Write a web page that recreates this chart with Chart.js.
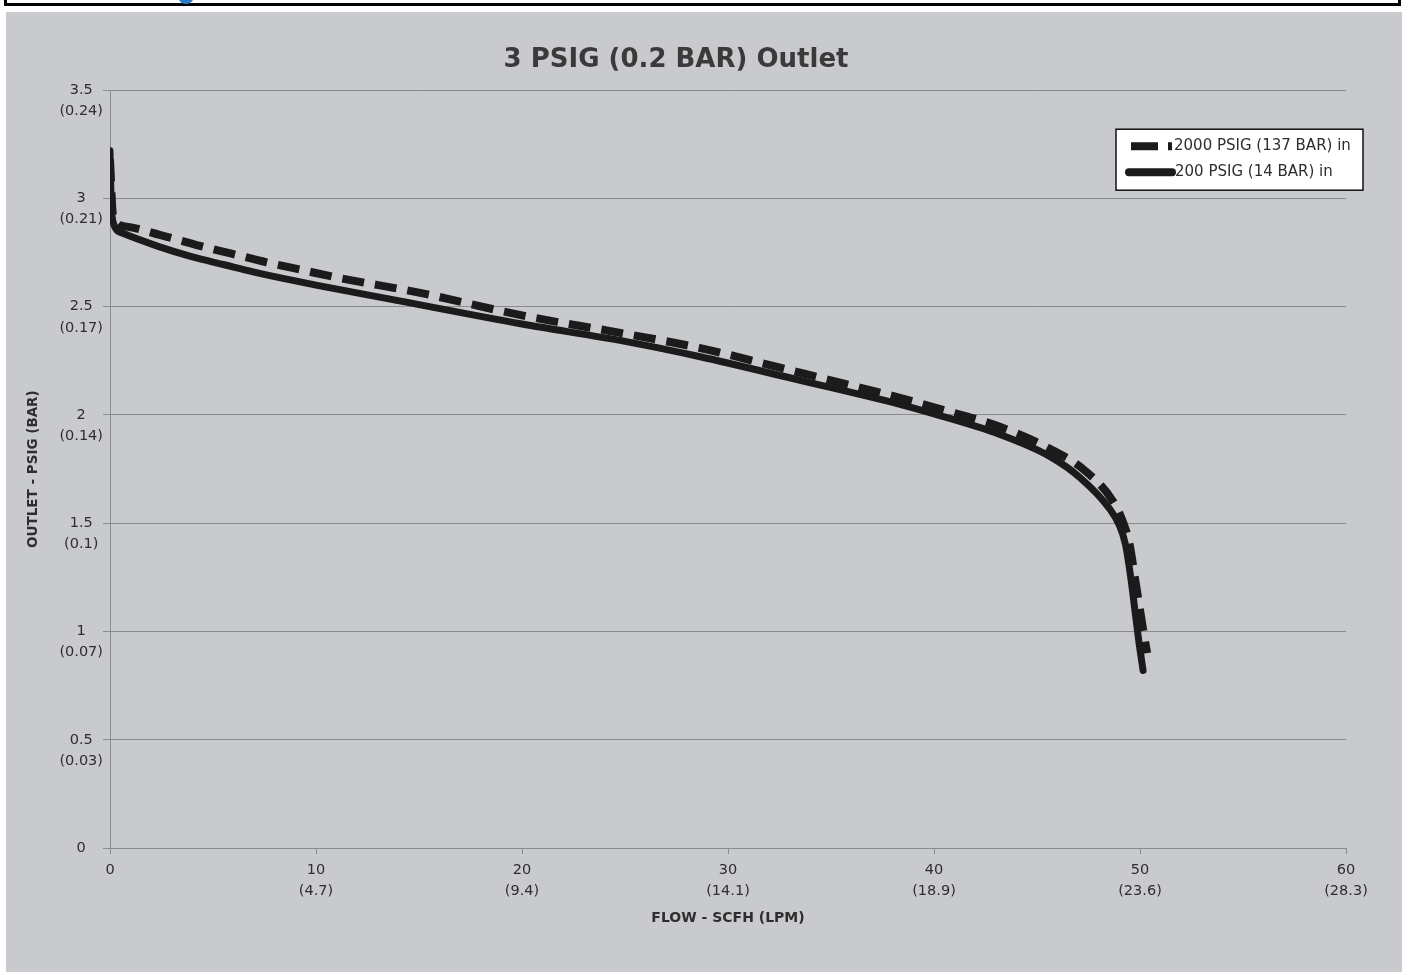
<!DOCTYPE html>
<html>
<head>
<meta charset="utf-8">
<title>3 PSIG (0.2 BAR) Outlet</title>
<script src="https://cdn.jsdelivr.net/npm/chart.js@4/dist/chart.umd.min.js"></script>
<style>
  html, body { margin: 0; padding: 0; background: #fff; }
  body { width: 1408px; height: 975px; position: relative; overflow: hidden; }
  #frame {
    position: absolute; left: 4px; top: -20px; width: 1391px; height: 20px;
    border: 3px solid #000; box-sizing: content-box;
  }
  #dot {
    position: absolute; left: 178px; top: -12px; width: 16px; height: 16px;
    border-radius: 50%; background: #2b78c5;
  }
  #panel {
    position: absolute; left: 6px; top: 12px; width: 1396px; height: 960px;
    background: #c8cacd;
  }
</style>
</head>
<body>
<div id="frame"></div>
<div id="dot"></div>
<div id="panel"><canvas id="myChart"></canvas></div>
<script>
// 3 PSIG outlet - flow curves

// 200 PSIG (14 BAR) inlet - solid
const flow200 = [0, 0.05, 0.15, 0.6, 2.3, 4, 5.5, 7, 8.7, 10, 13.6, 20, 25, 28.6, 33.5, 38.3, 40, 43.2, 45.6, 47.1, 48.5, 49.0, 49.3, 49.55, 49.75, 49.95, 50.15];
const outlet200 = [3.22, 3.0, 2.89, 2.84, 2.78, 2.73, 2.695, 2.66, 2.625, 2.6, 2.535, 2.42, 2.34, 2.27, 2.16, 2.05, 2.005, 1.91, 1.81, 1.71, 1.57, 1.49, 1.4, 1.25, 1.1, 0.95, 0.82];

// 2000 PSIG (137 BAR) inlet - dashed
const flow2000 = [0, 0.15, 0.8, 2.5, 4.2, 5.9, 7.6, 9.3, 11, 15, 20, 25, 28.6, 33.5, 38.3, 40, 43.2, 45.6, 47.3, 48.7, 49.2, 49.5, 49.75, 50.0, 50.2, 50.35];
const outlet2000 = [3.18, 2.92, 2.87, 2.83, 2.785, 2.745, 2.705, 2.67, 2.635, 2.565, 2.46, 2.375, 2.31, 2.195, 2.08, 2.035, 1.945, 1.845, 1.745, 1.6, 1.5, 1.4, 1.25, 1.1, 0.98, 0.9];

const seriesNames = ["2000 PSIG (137 BAR) in", "200 PSIG (14 BAR) in"];

// tick labels
const yTickPsig = ["0", "0.5", "1", "1.5", "2", "2.5", "3", "3.5"];
const yTickBar = ["", "(0.03)", "(0.07)", "(0.1)", "(0.14)", "(0.17)", "(0.21)", "(0.24)"];
const xTickScfh = ["0", "10", "20", "30", "40", "50", "60"];
const xTickLpm = ["", "(4.7)", "(9.4)", "(14.1)", "(18.9)", "(23.6)", "(28.3)"];

function toPoints(xs, ys) {
  return xs.map(function (x, i) { return { x: x, y: ys[i] }; });
}

const FONT = "'DejaVu Sans', sans-serif";
const TXT = "#2e2e2e";
const GRID = "#8a8b8e";

// legend box drawn inside the plot, top right
const boxLegend = {
  id: "boxLegend",
  afterDatasetsDraw(chart) {
    const c = chart.ctx;
    const area = chart.chartArea;
    const left = area.right - 230;
    const top = area.top + 39;
    const w = 247, h = 61;
    c.save();
    c.fillStyle = "#fff";
    c.fillRect(left, top, w, h);
    c.strokeStyle = "#111";
    c.lineWidth = 1.5;
    c.strokeRect(left, top, w, h);

    c.font = "15px " + FONT;
    c.fillStyle = TXT;
    c.textBaseline = "middle";

    // dashed sample
    const ds0 = chart.data.datasets[0];
    c.strokeStyle = ds0.borderColor;
    c.lineWidth = 8;
    c.setLineDash([27, 10]);
    c.beginPath();
    c.moveTo(left + 15, top + 17);
    c.lineTo(left + 56, top + 17);
    c.stroke();
    c.setLineDash([]);
    c.fillText(ds0.label, left + 58, top + 17);

    // solid sample
    const ds1 = chart.data.datasets[1];
    c.strokeStyle = ds1.borderColor;
    c.lineWidth = 8;
    c.lineCap = "round";
    c.beginPath();
    c.moveTo(left + 13, top + 43);
    c.lineTo(left + 56, top + 43);
    c.stroke();
    c.fillText(ds1.label, left + 59, top + 43);
    c.restore();
  },
};

const ctx = document.getElementById("myChart");

new Chart(ctx, {
  type: "line",
  data: {
    datasets: [
      {
        label: seriesNames[0],
        data: toPoints(flow2000, outlet2000),
        borderColor: "#1b1b1b",
        borderWidth: 8,
        borderDash: [22, 11],
        pointRadius: 0,
        cubicInterpolationMode: "monotone",
        order: 2,
      },
      {
        label: seriesNames[1],
        data: toPoints(flow200, outlet200),
        borderColor: "#1b1b1b",
        borderWidth: 7,
        borderCapStyle: "round",
        borderJoinStyle: "round",
        pointRadius: 0,
        cubicInterpolationMode: "monotone",
        order: 1,
      },
    ],
  },
  plugins: [boxLegend],
  options: {
    responsive: true,
    maintainAspectRatio: false,
    animation: false,
    layout: { padding: { left: 0, right: 56, top: 0, bottom: 0 } },
    plugins: {
      legend: { display: false },
      tooltip: { enabled: false },
      title: {
        display: true,
        text: "3 PSIG (0.2 BAR) Outlet",
        color: "#3a3a3a",
        font: { family: FONT, size: 26, weight: "bold", lineHeight: 1.2 },
        padding: { top: 33, bottom: 14 },
      },
    },
    scales: {
      x: {
        type: "linear",
        min: 0,
        max: 60,
        afterFit: function (s) { s.height = 124; },
        grid: { drawOnChartArea: false, color: GRID, tickLength: 6 },
        border: { color: GRID, width: 1 },
        ticks: {
          stepSize: 10,
          padding: 5,
          maxRotation: 0,
          color: TXT,
          font: { family: FONT, size: 14.5, lineHeight: 1.5 },
          callback: function (v) {
            const i = Math.round(v / 10);
            return xTickLpm[i] ? [xTickScfh[i], xTickLpm[i]] : xTickScfh[i];
          },
        },
        title: {
          display: true,
          text: "FLOW - SCFH (LPM)",
          color: TXT,
          font: { family: FONT, size: 14, weight: "bold" },
          padding: { top: 0, bottom: 45 },
        },
      },
      y: {
        min: 0,
        max: 3.5,
        afterFit: function (s) { s.width = 104; },
        grid: { color: GRID, lineWidth: 1, tickLength: 7 },
        border: { color: GRID, width: 1 },
        ticks: {
          stepSize: 0.5,
          padding: 0,
          crossAlign: "center",
          color: TXT,
          font: { family: FONT, size: 14.5, lineHeight: 1.45 },
          callback: function (v) {
            const i = Math.round(v / 0.5);
            return yTickBar[i] ? ["", yTickPsig[i], yTickBar[i]] : yTickPsig[i];
          },
        },
        title: {
          display: true,
          text: "OUTLET - PSIG (BAR)",
          color: TXT,
          font: { family: FONT, size: 13.5, weight: "bold" },
          padding: { top: 19, bottom: 0 },
        },
      },
    },
  },
});
</script>
</body>
</html>
